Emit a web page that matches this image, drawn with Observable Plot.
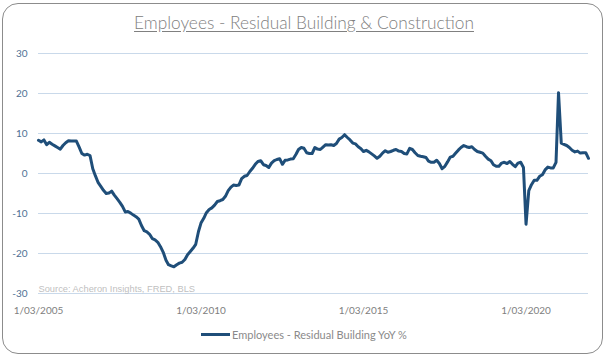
<!DOCTYPE html>
<html><head><meta charset="utf-8">
<script src="https://cdn.jsdelivr.net/npm/d3@7"></script>
<script src="https://cdn.jsdelivr.net/npm/@observablehq/plot@0.6"></script>
<style>
body{margin:0;background:#fff;}
#wrap{position:relative;width:608px;height:359px;overflow:hidden;font-family:Lato,"Open Sans",sans-serif;}
#frame{position:absolute;left:2px;top:3px;width:601px;height:351px;border:1px solid #8c8c8c;border-radius:16px;box-sizing:border-box;}
#title{position:absolute;left:0;width:608px;top:12px;text-align:center;font-size:17.3px;color:#808080;text-decoration:underline;text-underline-offset:2px;font-weight:300;white-space:nowrap;}
#chart{position:absolute;left:0;top:0;}
#legend{position:absolute;left:201px;top:326px;height:16px;display:flex;align-items:center;font-size:11px;color:#8a8a8a;white-space:nowrap;}
#legend .sw{display:inline-block;width:29px;height:3px;background:#1f4e79;margin-right:2px;}
</style>
</head><body>
<div id="wrap">
  <div id="frame"></div>
  <div id="chart"></div>
  <div id="title">Employees - Residual Building &amp; Construction</div>
  <div id="legend"><span class="sw"></span><span id="legtext"></span></div>
</div>
<script>
const titleText = "Employees - Residual Building & Construction";
const seriesName = "Employees - Residual Building YoY %";
const sourceText = "Source: Acheron Insights, FRED, BLS";
const startYear = 2005, startMonth = 3; // monthly series from March 2005
const yoy = [
  8.3, 7.9, 8.4, 7.2, 7.8, 7.3, 6.9, 6.5, 6.1, 7.0,
  7.7, 8.2, 8.1, 8.1, 8.1, 6.6, 5.0, 4.6, 4.8, 4.5,
  1.2, -0.6, -2.3, -3.3, -4.2, -5.0, -4.9, -4.4, -5.4, -6.3,
  -7.2, -8.2, -9.6, -9.5, -9.9, -10.4, -10.8, -11.4, -13.0, -14.3,
  -14.6, -15.2, -16.3, -16.6, -17.2, -18.3, -19.7, -21.7, -22.8, -23.1,
  -23.3, -22.8, -22.4, -22.2, -21.5, -20.3, -19.5, -18.7, -17.7, -14.5,
  -12.4, -11.2, -9.8, -9.0, -8.6, -7.9, -7.0, -6.8, -6.5, -5.7,
  -4.3, -3.4, -2.9, -3.0, -2.9, -1.3, -0.7, -0.5, 0.5, 1.3,
  2.3, 3.0, 3.2, 2.2, 2.0, 1.5, 2.6, 3.2, 3.5, 3.7,
  2.3, 3.3, 3.4, 3.6, 3.7, 4.8, 6.0, 6.5, 6.3, 5.2,
  5.0, 5.0, 6.5, 6.1, 6.0, 6.6, 7.2, 7.1, 7.2, 7.0,
  7.5, 8.6, 9.0, 9.7, 9.0, 8.4, 7.6, 7.4, 6.7, 6.2,
  5.5, 5.8, 5.4, 4.9, 4.4, 3.8, 4.3, 5.1, 5.7, 5.3,
  5.5, 5.8, 6.0, 5.6, 5.5, 5.0, 4.9, 6.3, 6.0, 5.2,
  4.5, 4.3, 4.2, 4.0, 3.1, 2.8, 2.8, 3.3, 2.5, 1.2,
  1.8, 2.9, 4.1, 4.3, 5.1, 5.9, 6.5, 7.0, 6.7, 6.5,
  6.7, 6.0, 5.5, 5.3, 5.1, 4.3, 3.6, 3.2, 2.2, 1.8,
  1.8, 2.6, 2.8, 2.5, 3.0, 2.3, 1.7, 2.6, 2.8, 1.5,
  -12.7, -4.3, -2.8, -1.7, -1.7, -0.7, -0.3, 0.9, 1.6, 1.4,
  1.4, 2.8, 20.2, 7.6, 7.3, 7.0, 6.5, 5.8, 5.4, 5.6,
  5.1, 5.2, 5.2, 3.8
];
const yTicks = [-30, -20, -10, 0, 10, 20, 30];
const xTickYears = [2005, 2010, 2015, 2020];
const xTickLabels = ["1/03/2005", "1/03/2010", "1/03/2015", "1/03/2020"];

const data = yoy.map((v, i) => ({date: new Date(Date.UTC(startYear, startMonth - 1 + i, 1)), value: v}));
const xTickDates = xTickYears.map(y => new Date(Date.UTC(y, 2, 1)));

document.getElementById("title").textContent = titleText;
document.getElementById("legtext").textContent = seriesName;

const chart = Plot.plot({
  width: 608, height: 322,
  marginLeft: 38, marginRight: 20, marginTop: 53, marginBottom: 29,
  x: {type: "utc", domain: [data[0].date, data[data.length - 1].date]},
  y: {domain: [-30, 30]},
  style: {background: "transparent", fontFamily: "Lato, 'Open Sans', sans-serif", overflow: "visible"},
  marks: [
    Plot.gridY(yTicks, {stroke: "#c9d9ea", strokeOpacity: 1, strokeWidth: 1}),
    Plot.axisY(yTicks, {tickSize: 0, tickPadding: 11, fill: "#4e6f94", fontSize: 10, label: null, tickFormat: d => String(d)}),
    Plot.axisX(xTickDates, {tickSize: 0, tickPadding: 13, fill: "#808080", fontSize: 10, label: null,
      tickFormat: d => xTickLabels[xTickDates.findIndex(t => +t === +d)]}),
    Plot.text([sourceText], {text: d => d, frameAnchor: "bottom-left", textAnchor: "start", lineAnchor: "bottom", dy: -2,
      fill: "#bfbfbf", fontSize: 9.3, fontFamily: "Liberation Sans, Arial, sans-serif"}),
    Plot.lineY(data, {x: "date", y: "value", stroke: "#1f4e79", strokeWidth: 3, strokeLinejoin: "round", strokeLinecap: "round"})
  ]
});
document.getElementById("chart").appendChild(chart);
</script>
</body></html>
